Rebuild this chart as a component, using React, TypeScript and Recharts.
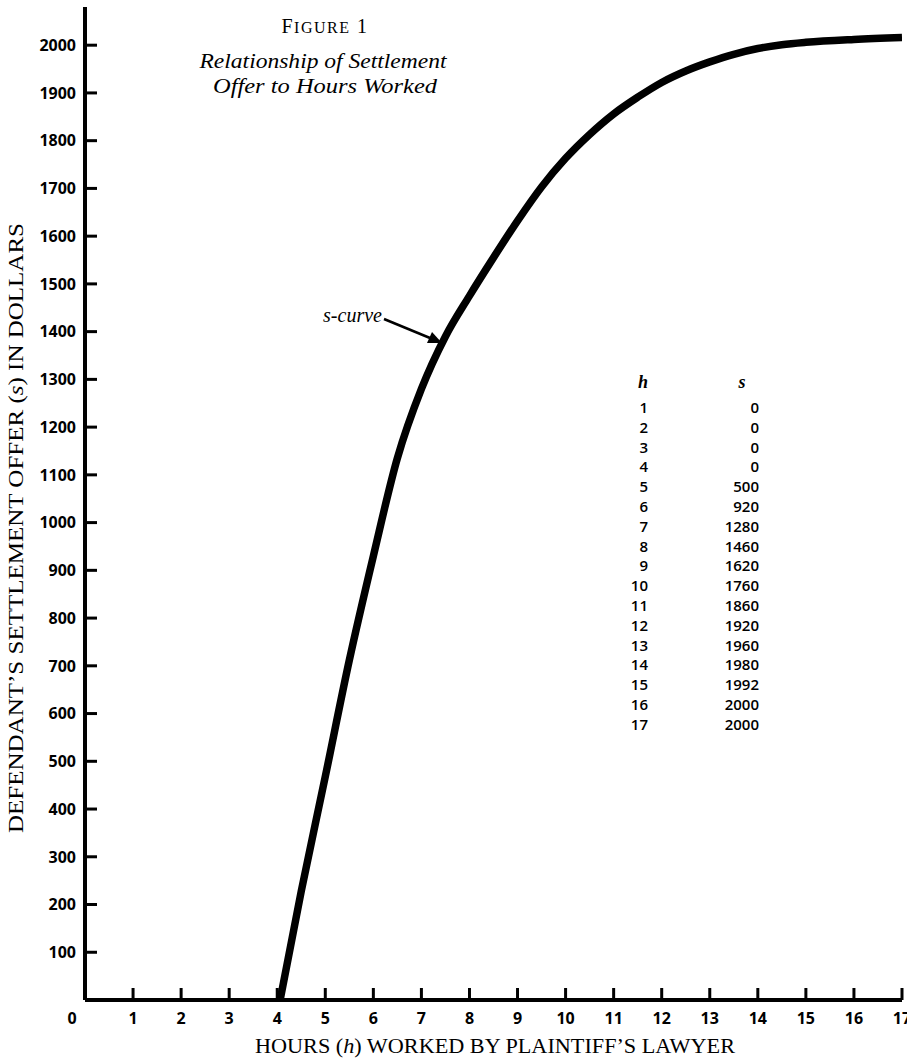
import React from "react";
import { LineChart, Line, XAxis, YAxis } from "recharts";

// curve (hours worked -> settlement offer)
const curveHours = [4.06, 4.5, 5, 5.5, 6, 6.5, 7, 7.5, 8, 8.5, 9, 9.5, 10, 10.5, 11, 11.5, 12, 12.5, 13, 13.5, 14, 14.5, 15, 16, 17];
const curveOffers = [0, 228, 468, 712, 930, 1135, 1280, 1390, 1475, 1555, 1632, 1703, 1763, 1813, 1856, 1891, 1922, 1946, 1965, 1981, 1993, 2001, 2006, 2012, 2016];

// the printed table
const tableHours = [1, 2, 3, 4, 5, 6, 7, 8, 9, 10, 11, 12, 13, 14, 15, 16, 17];
const tableOffers = [0, 0, 0, 0, 500, 920, 1280, 1460, 1620, 1760, 1860, 1920, 1960, 1980, 1992, 2000, 2000];

const xTicks = [0, 1, 2, 3, 4, 5, 6, 7, 8, 9, 10, 11, 12, 13, 14, 15, 16, 17];
const yTicks = [100, 200, 300, 400, 500, 600, 700, 800, 900, 1000, 1100, 1200, 1300, 1400, 1500, 1600, 1700, 1800, 1900, 2000];

const data = curveHours.map((h, i) => ({ h, s: curveOffers[i] }));

const numFont = "'Open Sans', 'DejaVu Sans', sans-serif";
const serif = "'Liberation Serif', 'DejaVu Serif', serif";

function XTick(props: any) {
  const { x, y, payload } = props;
  if (payload.value === 0) {
    return (
      <text x={x - 13} y={y + 18} textAnchor="middle" dy="0.36em" fontFamily={numFont} fontWeight={700} fontSize={16} fill="#000">
        0
      </text>
    );
  }
  return (
    <g>
      <line x1={x} x2={x} y1={y} y2={y - 12} stroke="#000" strokeWidth={3} />
      <text x={x} y={y + 18} textAnchor="middle" dy="0.36em" fontFamily={numFont} fontWeight={700} fontSize={16} fill="#000">
        {payload.value}
      </text>
    </g>
  );
}

function YTick(props: any) {
  const { x, y, payload } = props;
  return (
    <g>
      <line x1={x} x2={x + 12} y1={y} y2={y} stroke="#000" strokeWidth={3} />
      <text x={x - 9} y={y} textAnchor="end" dy="0.36em" fontFamily={numFont} fontWeight={700} fontSize={16} fill="#000">
        {payload.value}
      </text>
    </g>
  );
}

export default function App() {
  return (
    <div style={{ position: "absolute", left: 0, top: 0, width: 907, height: 1059, background: "#fff" }}>
      <LineChart width={907} height={1059} data={data} margin={{ top: 7, right: 5, bottom: 19, left: 5 }}>
        <XAxis
          dataKey="h"
          type="number"
          domain={[0, 17]}
          ticks={xTicks}
          interval={0}
          height={40}
          tickSize={0}
          tickMargin={0}
          tickLine={false}
          axisLine={{ stroke: "#000", strokeWidth: 4 }}
          tick={<XTick />}
          allowDataOverflow
        />
        <YAxis
          type="number"
          domain={[0, 2080]}
          ticks={yTicks}
          interval={0}
          width={80}
          tickSize={0}
          tickMargin={0}
          tickLine={false}
          axisLine={{ stroke: "#000", strokeWidth: 4 }}
          tick={<YTick />}
          allowDataOverflow
        />
        <Line
          dataKey="s"
          type="monotone"
          stroke="#000"
          strokeWidth={7.5}
          dot={false}
          activeDot={false}
          isAnimationActive={false}
        />
      </LineChart>

      <svg width={907} height={1059} style={{ position: "absolute", left: 0, top: 0, pointerEvents: "none" }}>
        {/* title */}
        <text x={325} y={33} textAnchor="middle" fontFamily={serif} fill="#000" letterSpacing={1.5}>
          <tspan fontSize={20}>F</tspan>
          <tspan fontSize={16}>IGURE</tspan>
          <tspan fontSize={20}> 1</tspan>
        </text>
        <text x={323} y={68} textAnchor="middle" fontFamily={serif} fontStyle="italic" fontSize={21} fill="#000" textLength={247} lengthAdjust="spacingAndGlyphs">
          Relationship of Settlement
        </text>
        <text x={325} y={93} textAnchor="middle" fontFamily={serif} fontStyle="italic" fontSize={21} fill="#000" textLength={224} lengthAdjust="spacingAndGlyphs">
          Offer to Hours Worked
        </text>

        {/* s-curve annotation */}
        <text x={323} y={322} fontFamily={serif} fontStyle="italic" fontSize={20} fill="#000" textLength={59} lengthAdjust="spacingAndGlyphs">
          s-curve
        </text>
        <line x1={384} y1={319} x2={430} y2={338} stroke="#000" strokeWidth={2.5} />
        <polygon points="442,343 427,343 432,332" fill="#000" />

        {/* table */}
        <text x={643} y={388} textAnchor="middle" fontFamily={serif} fontStyle="italic" fontWeight="bold" fontSize={18} fill="#000">h</text>
        <text x={742} y={388} textAnchor="middle" fontFamily={serif} fontStyle="italic" fontWeight="bold" fontSize={18} fill="#000">s</text>
        {tableHours.map((h, i) => (
          <g key={h}>
            <text x={648} y={413 + i * 19.8} textAnchor="end" fontFamily={numFont} fontWeight={600} fontSize={15} fill="#000">{h}</text>
            <text x={759} y={413 + i * 19.8} textAnchor="end" fontFamily={numFont} fontWeight={600} fontSize={15} fill="#000">{tableOffers[i]}</text>
          </g>
        ))}

        {/* axis titles */}
        <text x={495} y={1053} textAnchor="middle" fontFamily={serif} fontSize={20} fill="#000" textLength={480} lengthAdjust="spacingAndGlyphs">
          HOURS (<tspan fontStyle="italic">h</tspan>) WORKED BY PLAINTIFF’S LAWYER
        </text>
        <text transform="translate(23,528) rotate(-90)" textAnchor="middle" fontFamily={serif} fontSize={20} fill="#000" textLength={610} lengthAdjust="spacingAndGlyphs">
          DEFENDANT’S SETTLEMENT OFFER (<tspan fontStyle="italic">s</tspan>) IN DOLLARS
        </text>
      </svg>
    </div>
  );
}
